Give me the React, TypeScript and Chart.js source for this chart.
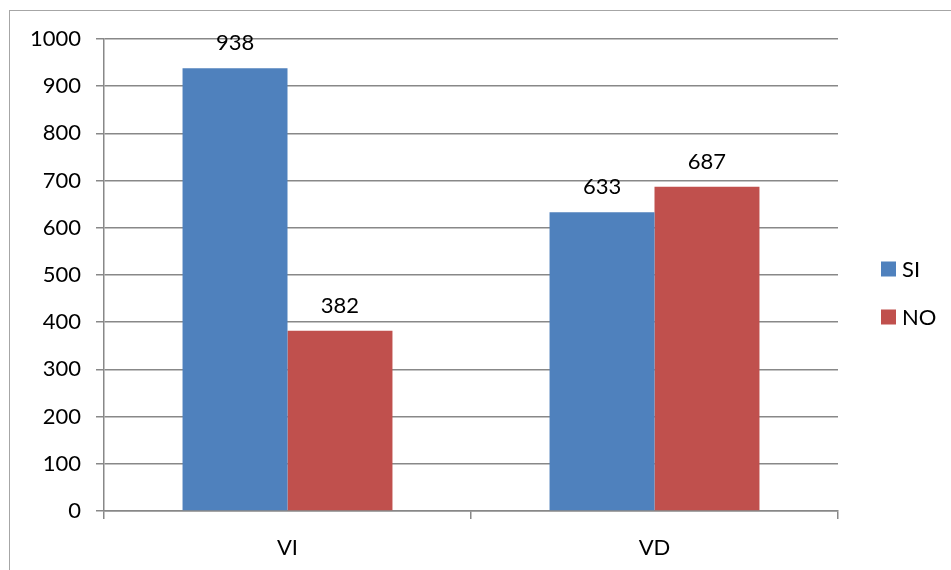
import React, { useEffect, useRef } from "react";
import { Chart, registerables } from "chart.js";

Chart.register(...registerables);

const categories = ["VI", "VD"];
const seriesNames = ["SI", "NO"];
const siValues = [938, 633];
const noValues = [382, 687];
const seriesColors = ["#4F81BD", "#C0504D"];
const yTicks = [0, 100, 200, 300, 400, 500, 600, 700, 800, 900, 1000];

const FONT = "Lato, 'Open Sans', sans-serif";
const GRID = "#888888";

const framePlugin = {
  id: "frame",
  beforeDraw(chart: any) {
    const ctx = chart.ctx;
    ctx.save();
    ctx.fillStyle = "#ffffff";
    ctx.fillRect(0, 0, chart.width, chart.height);
    ctx.strokeStyle = "#a6a6a6";
    ctx.lineWidth = 1;
    ctx.strokeRect(9.5, 10.5, 3000, 3000);
    ctx.restore();
  },
};

const valueLabels = {
  id: "valueLabels",
  afterDatasetsDraw(chart: any) {
    const ctx = chart.ctx;
    ctx.save();
    ctx.font = `22px ${FONT}`;
    ctx.fillStyle = "#000000";
    ctx.textAlign = "center";
    ctx.textBaseline = "alphabetic";
    chart.data.datasets.forEach((ds: any, i: number) => {
      const meta = chart.getDatasetMeta(i);
      meta.data.forEach((bar: any, j: number) => {
        ctx.fillText(String(ds.data[j]), bar.x, bar.y - 18);
      });
    });
    ctx.restore();
  },
};

const customLegend = {
  id: "customLegend",
  afterDraw(chart: any) {
    const ctx = chart.ctx;
    ctx.save();
    ctx.font = `22px ${FONT}`;
    ctx.textBaseline = "middle";
    ctx.textAlign = "left";
    chart.data.datasets.forEach((ds: any, i: number) => {
      const cy = 269 + i * 48;
      ctx.fillStyle = ds.backgroundColor;
      ctx.fillRect(881, cy - 7.5, 15, 15);
      ctx.fillStyle = "#000000";
      ctx.fillText(ds.label, 902, cy + 1);
    });
    ctx.restore();
  },
};

export default function App() {
  const ref = useRef<HTMLCanvasElement>(null);
  useEffect(() => {
    document.body.style.margin = "0";
    const chart = new Chart(ref.current as HTMLCanvasElement, {
      type: "bar",
      data: {
        labels: categories,
        datasets: [
          { label: seriesNames[0], data: siValues, backgroundColor: seriesColors[0] },
          { label: seriesNames[1], data: noValues, backgroundColor: seriesColors[1] },
        ],
      },
      options: {
        animation: false,
        responsive: false,
        devicePixelRatio: 1,
        layout: { padding: { left: 9, top: 39, right: 113, bottom: 0 } },
        plugins: { legend: { display: false }, tooltip: { enabled: false } },
        datasets: { bar: { barPercentage: 1, categoryPercentage: 0.572 } },
        scales: {
          x: {
            offset: true,
            grid: {
              offset: true,
              drawOnChartArea: false,
              drawTicks: true,
              tickLength: 8,
              color: GRID,
              lineWidth: 1.5,
            },
            border: { color: GRID, width: 1.5 },
            ticks: { font: { size: 22, family: FONT }, color: "#000", padding: 16 },
            afterFit(scale: any) {
              scale.height = 570 - 511;
            },
          },
          y: {
            min: 0,
            max: 1000,
            afterBuildTicks(scale: any) {
              scale.ticks = yTicks.map((v) => ({ value: v }));
            },
            grid: { color: GRID, lineWidth: 1.5, tickLength: 8 },
            border: { color: GRID, width: 1.5 },
            ticks: {
              font: { size: 22, family: FONT },
              color: "#000",
              padding: 15,
              callback: (v: any) => String(v),
            },
            afterFit(scale: any) {
              scale.width = 104 - 9;
            },
          },
        },
      },
      plugins: [framePlugin, valueLabels, customLegend],
    });
    return () => chart.destroy();
  }, []);
  return (
    <div style={{ width: 951, height: 570 }}>
      <canvas ref={ref} width={951} height={570} style={{ display: "block" }} />
    </div>
  );
}
